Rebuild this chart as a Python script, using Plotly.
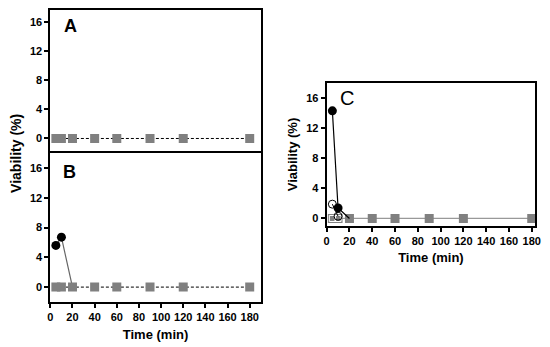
import plotly.graph_objects as go

# ---- data ----
time_sq = [5, 10, 20, 40, 60, 90, 120, 180]
a_squares = [0, 0, 0, 0, 0, 0, 0, 0]

b_circ_x = [5, 10, 20]
b_circ_y = [5.6, 6.7, 0]
b_squares = [0, 0, 0, 0, 0, 0, 0, 0]

c_circ_x = [5, 10, 20]
c_circ_y = [14.3, 1.4, 0]
c_open_x = [5, 10]
c_open_y = [1.9, 0.3]
c_squares = [0, 0, 0, 0, 0, 0, 0, 0]
c_open_sq_x = [5, 10]
c_open_sq_y = [0, 0]

y_ticks = [0, 4, 8, 12, 16]
x_ticks = [0, 20, 40, 60, 80, 100, 120, 140, 160, 180]

FONT = "Liberation Sans, Arial, sans-serif"
GRAY = "#808080"

fig = go.Figure()

# Panel A
fig.add_trace(go.Scatter(x=time_sq, y=a_squares, mode="lines+markers", xaxis="x", yaxis="y",
                         line=dict(color="black", width=1, dash="3px,2px"),
                         marker=dict(symbol="square", size=9, color=GRAY), showlegend=False))
# Panel B
fig.add_trace(go.Scatter(x=b_circ_x, y=b_circ_y, mode="lines", xaxis="x2", yaxis="y2",
                         line=dict(color="#666666", width=1.2), showlegend=False))
fig.add_trace(go.Scatter(x=b_circ_x[:2], y=b_circ_y[:2], mode="markers", xaxis="x2", yaxis="y2",
                         marker=dict(symbol="circle", size=9, color="black"), showlegend=False))
fig.add_trace(go.Scatter(x=time_sq, y=b_squares, mode="lines+markers", xaxis="x2", yaxis="y2",
                         line=dict(color="black", width=1, dash="3px,2px"),
                         marker=dict(symbol="square", size=9, color=GRAY), showlegend=False))
# Panel C
fig.add_trace(go.Scatter(x=time_sq, y=c_squares, mode="lines+markers", xaxis="x3", yaxis="y3",
                         line=dict(color="#999999", width=1.2),
                         marker=dict(symbol="square", size=9, color=GRAY), showlegend=False))
fig.add_trace(go.Scatter(x=c_open_sq_x, y=c_open_sq_y, mode="markers", xaxis="x3", yaxis="y3",
                         marker=dict(symbol="square-open", size=6, color="white", line=dict(width=1)),
                         showlegend=False))
fig.add_trace(go.Scatter(x=c_open_x, y=c_open_y, mode="lines+markers", xaxis="x3", yaxis="y3",
                         line=dict(color="black", width=1),
                         marker=dict(symbol="circle-open", size=8, color="black", line=dict(width=1, color="black")),
                         showlegend=False))
fig.add_trace(go.Scatter(x=c_circ_x, y=c_circ_y, mode="lines", xaxis="x3", yaxis="y3",
                         line=dict(color="black", width=1.2), showlegend=False))
fig.add_trace(go.Scatter(x=c_circ_x[:2], y=c_circ_y[:2], mode="markers", xaxis="x3", yaxis="y3",
                         marker=dict(symbol="circle", size=9, color="black"), showlegend=False))

tickfont = dict(family=FONT, size=11, color="black", weight="bold")
titlefont = dict(family=FONT, size=13, color="black", weight="bold")
axis_common = dict(showgrid=False, zeroline=False, showline=True, linecolor="black", linewidth=2,
                   mirror=True, ticks="outside", ticklen=4, tickwidth=1.5, tickcolor="black",
                   tickfont=tickfont, tickangle=0)

# the page body adds an 8px margin; the figure is sized to fill the rest
OFF = 8
W, H = 550 - OFF, 347 - OFF
def dx(a, b):
    return [(a - OFF) / W, (b - OFF) / W]
def dy(top, bottom):
    return [(H - (bottom - OFF)) / H, (H - (top - OFF)) / H]
def px(x):
    return (x - OFF) / W
def py(y):
    return 1 - (y - OFF) / H

fig.update_layout(
    width=W, height=H, margin=dict(l=0, r=0, t=0, b=0),
    paper_bgcolor="white", plot_bgcolor="white",
    xaxis=dict(axis_common, domain=dx(48, 262), range=[0, 190], anchor="y", side="top",
               mirror=False, tickvals=x_ticks, showticklabels=False, ticks=""),
    yaxis=dict(axis_common, domain=dy(10, 153), range=[-2, 17.7], anchor="x", tickvals=y_ticks),
    xaxis2=dict(axis_common, domain=dx(48, 262), range=[0, 190], anchor="y2", tickvals=x_ticks,
                title=dict(text="Time (min)", font=titlefont, standoff=8)),
    yaxis2=dict(axis_common, domain=dy(153, 302), range=[-2, 18], anchor="x2", tickvals=y_ticks),
    xaxis3=dict(axis_common, domain=dx(329, 541), range=[0, 183], anchor="y3", tickvals=x_ticks,
                title=dict(text="Time (min)", font=titlefont, standoff=7)),
    yaxis3=dict(axis_common, domain=dy(83, 226), range=[-1, 18], anchor="x3", tickvals=y_ticks,
                title=dict(text="Viability (%)", font=titlefont, standoff=6)),
    annotations=[
        dict(text="<b>A</b>", x=px(60), y=py(26), xref="paper", yref="paper", showarrow=False,
             font=dict(family="Liberation Sans", size=18, color="black"), xanchor="left", yanchor="middle"),
        dict(text="<b>B</b>", x=px(59), y=py(172), xref="paper", yref="paper", showarrow=False,
             font=dict(family="Liberation Sans", size=18, color="black"), xanchor="left", yanchor="middle"),
        dict(text="C", x=px(341), y=py(98), xref="paper", yref="paper", showarrow=False,
             font=dict(family="Liberation Sans", size=20, color="black"), xanchor="left", yanchor="middle"),
        dict(text="Viability (%)", x=px(13), y=py(153), xref="paper", yref="paper", showarrow=False,
             textangle=-90, font=dict(family=FONT, size=14, color="black", weight="bold"),
             xanchor="center", yanchor="middle"),
    ],
)

fig.write_html("out.html")
